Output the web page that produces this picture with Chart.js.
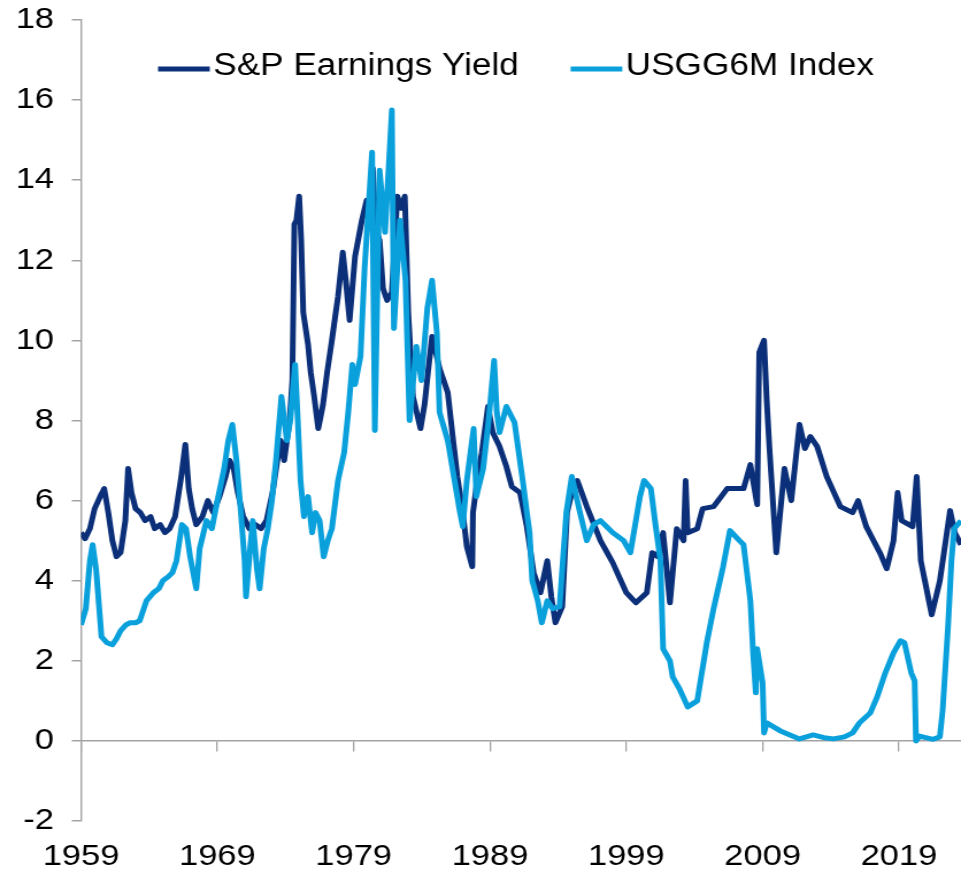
<!DOCTYPE html>
<html>
<head>
<meta charset="utf-8">
<script src="https://cdn.jsdelivr.net/npm/chart.js@4.4.1/dist/chart.umd.min.js"></script>
<style>
  html, body { margin: 0; padding: 0; background: #fff; overflow: hidden; }
  #wrap { width: 836px; height: 877px; transform: scaleX(1.1495); transform-origin: 0 0; }
</style>
</head>
<body>
<div id="wrap"><canvas id="chart" width="836" height="877"></canvas></div>
<script>
// S&P 500 earnings yield (%)
var earningsYears = [
  1959.0, 1959.3, 1959.65, 1960.0, 1960.4, 1960.7, 1961.0, 1961.3, 1961.6, 1961.9,
  1962.25, 1962.45, 1962.7, 1963.0, 1963.35, 1963.7, 1964.1, 1964.4, 1964.8, 1965.15,
  1965.5, 1965.9, 1966.35, 1966.65, 1966.9, 1967.15, 1967.45, 1967.9, 1968.3, 1968.7,
  1969.15, 1969.6, 1969.9, 1970.2, 1970.5, 1970.9, 1971.35, 1971.8, 1972.2, 1972.6,
  1973.05, 1973.4, 1973.65, 1973.9, 1974.3, 1974.5, 1974.65, 1974.8, 1975.0, 1975.15,
  1975.3, 1975.65, 1975.85, 1976.1, 1976.4, 1976.75, 1977.05, 1977.4, 1977.85, 1978.2,
  1978.45, 1978.7, 1979.1, 1979.6, 1979.95, 1980.2, 1980.4, 1980.6, 1980.9, 1981.15,
  1981.45, 1981.8, 1982.0, 1982.2, 1982.5, 1982.75, 1983.0, 1983.35, 1983.9, 1984.2,
  1984.45, 1984.75, 1985.3, 1985.9, 1986.3, 1986.6, 1986.95, 1987.3, 1987.7, 1987.75,
  1988.1, 1988.4, 1988.85, 1989.2, 1989.7, 1990.2, 1990.6, 1991.2, 1991.7, 1992.2,
  1992.7, 1993.2, 1993.5, 1993.8, 1994.3, 1994.65, 1995.0, 1995.4, 1996.1, 1997.1,
  1998.0, 1999.0, 1999.7, 2000.5, 2000.9, 2001.3, 2001.7, 2002.2, 2002.7, 2003.2,
  2003.35, 2003.5, 2004.2, 2004.6, 2005.4, 2006.4, 2007.6, 2008.1, 2008.6, 2008.75,
  2009.1, 2009.3, 2009.5, 2010.0, 2010.6, 2011.1, 2011.7, 2012.1, 2012.5, 2013.0,
  2013.7, 2014.7, 2015.6, 2016.0, 2016.6, 2017.6, 2018.1, 2018.6, 2018.9, 2019.2,
  2020.0, 2020.3, 2020.6, 2020.9, 2021.4, 2022.0, 2022.75, 2023.1, 2023.55
];
var earningsYield = [
  5.2, 5.05, 5.3, 5.8, 6.1, 6.3, 5.7, 5.0, 4.6, 4.7,
  5.5, 6.8, 6.2, 5.8, 5.7, 5.5, 5.6, 5.3, 5.4, 5.2,
  5.3, 5.6, 6.6, 7.4, 6.3, 5.8, 5.4, 5.6, 6.0, 5.7,
  6.1, 6.6, 7.0, 6.8, 6.2, 5.6, 5.3, 5.4, 5.3, 5.5,
  6.2, 7.0, 7.5, 7.0, 8.0, 9.0, 12.9, 13.0, 13.6, 12.5,
  10.7, 9.9, 9.2, 8.6, 7.8, 8.4, 9.2, 10.0, 11.1, 12.2,
  11.4, 10.5, 12.1, 13.0, 13.5, 13.0, 14.3, 12.8, 12.5, 11.3,
  11.0, 11.2, 12.4, 13.6, 13.3, 13.6, 10.7, 8.6, 7.8, 8.4,
  9.2, 10.1, 9.3, 8.7, 7.5, 6.6, 5.85, 4.85, 4.35, 5.7,
  6.6, 7.2, 8.35, 7.7, 7.35, 6.85, 6.35, 6.2, 5.35, 4.2,
  3.7, 4.5, 3.6, 2.95, 3.35, 5.7, 6.2, 6.5, 5.85, 5.0,
  4.45, 3.7, 3.45, 3.7, 4.7, 4.6, 5.2, 3.45, 5.3, 5.0,
  6.5, 5.2, 5.3, 5.8, 5.85, 6.3, 6.3, 6.9, 5.9, 9.7,
  10.0, 8.5, 7.3, 4.7, 6.8, 6.0, 7.9, 7.3, 7.6, 7.35,
  6.6, 5.85, 5.7, 6.0, 5.35, 4.7, 4.3, 5.0, 6.2, 5.5,
  5.35, 6.6, 4.5, 4.0, 3.15, 4.0, 5.75, 5.2, 4.9
];

// US Generic 6-month bill yield (%)
var billYears = [
  1959.0, 1959.35, 1959.65, 1959.85, 1960.1, 1960.3, 1960.5, 1960.9, 1961.3, 1961.6,
  1961.9, 1962.3, 1962.6, 1963.0, 1963.3, 1963.6, 1963.8, 1964.3, 1964.7, 1965.0,
  1965.4, 1965.7, 1966.0, 1966.4, 1966.7, 1967.0, 1967.45, 1967.7, 1968.2, 1968.6,
  1969.0, 1969.5, 1969.8, 1970.1, 1970.4, 1970.7, 1971.0, 1971.1, 1971.4, 1971.6,
  1971.9, 1972.1, 1972.4, 1972.7, 1973.0, 1973.3, 1973.7, 1974.1, 1974.35, 1974.7,
  1974.9, 1975.1, 1975.35, 1975.65, 1975.95, 1976.2, 1976.5, 1976.8, 1977.1, 1977.4,
  1977.85, 1978.3, 1978.6, 1978.9, 1979.1, 1979.5, 1979.8, 1980.35, 1980.55, 1980.9,
  1981.3, 1981.8, 1981.95, 1982.4, 1982.8, 1983.1, 1983.6, 1983.97, 1984.4, 1984.75,
  1985.1, 1985.3, 1985.9, 1986.4, 1986.8, 1987.0, 1987.3, 1987.8, 1988.0, 1988.5,
  1988.9, 1989.3, 1989.5, 1989.7, 1990.2, 1990.8, 1991.4, 1991.9, 1992.1, 1992.5,
  1992.8, 1993.2, 1993.6, 1994.1, 1994.6, 1995.0, 1995.6, 1996.1, 1996.6, 1997.1,
  1998.0, 1998.8, 1999.3, 2000.0, 2000.3, 2000.8, 2001.1, 2001.5, 2001.7, 2002.2,
  2002.4, 2002.9, 2003.5, 2004.2, 2004.9, 2005.4, 2006.1, 2006.6, 2007.3, 2007.6,
  2008.1, 2008.3, 2008.5, 2008.6, 2009.0, 2009.1, 2009.3, 2010.3, 2011.0, 2011.7,
  2012.7, 2013.5, 2014.2, 2015.0, 2015.6, 2016.1, 2016.9, 2017.4, 2018.0, 2018.6,
  2019.1, 2019.4, 2019.9, 2020.15, 2020.25, 2020.5, 2021.5, 2022.0, 2022.2, 2022.6,
  2022.85, 2023.05, 2023.55
];
var billYield = [
  2.9, 3.3, 4.5, 4.9, 4.3, 3.45, 2.6, 2.45, 2.4, 2.55,
  2.75, 2.9, 2.95, 2.95, 3.0, 3.3, 3.5, 3.7, 3.8, 4.0,
  4.1, 4.2, 4.5, 5.4, 5.3, 4.6, 3.8, 4.8, 5.5, 5.3,
  6.0, 6.8, 7.5, 7.9, 7.0, 5.8, 4.5, 3.6, 4.8, 5.5,
  4.3, 3.8, 4.8, 5.3, 6.0, 7.0, 8.6, 7.5, 8.0, 9.4,
  8.0, 6.5, 5.6, 6.1, 5.2, 5.7, 5.5, 4.6, 5.0, 5.3,
  6.5, 7.2, 8.2, 9.4, 8.9, 9.6, 11.8, 14.7, 7.75, 14.25,
  12.7, 15.75, 10.3, 13.0, 11.5, 8.0, 9.85, 9.0, 10.8, 11.5,
  10.2, 8.2, 7.5, 6.5, 5.7, 5.35, 6.5, 7.8, 6.1, 6.8,
  8.0, 9.5, 8.2, 7.7, 8.35, 7.95, 6.5, 5.2, 4.0, 3.5,
  2.95, 3.5, 3.3, 3.35, 5.7, 6.6, 5.7, 5.0, 5.4, 5.5,
  5.2, 5.0, 4.7, 6.1, 6.5, 6.3, 5.5, 4.5, 2.3, 2.0,
  1.6, 1.3, 0.85, 1.0, 2.45, 3.3, 4.35, 5.25, 5.0, 4.9,
  3.5, 2.2, 1.2, 2.3, 1.45, 0.2, 0.45, 0.25, 0.15, 0.05,
  0.15, 0.08, 0.05, 0.1, 0.2, 0.45, 0.7, 1.1, 1.7, 2.2,
  2.5, 2.45, 1.7, 1.5, 0.0, 0.12, 0.04, 0.1, 0.75, 2.85,
  4.5, 5.3, 5.5
];

var seriesNames = ['S&P Earnings Yield', 'USGG6M Index'];
var yearTicks = [1959, 1969, 1979, 1989, 1999, 2009, 2019];

var NAVY = '#0B3079';
var CYAN = '#0AA0DC';
var AXIS = '#A3A3A3';
var FONT = '"Liberation Sans", Arial, sans-serif';

Chart.defaults.font.family = FONT;
Chart.defaults.color = '#000';

function toPoints(xs, ys) {
  return xs.map(function (x, i) { return { x: x, y: ys[i] }; });
}

function fixedTicks(scale) {
  scale.ticks = yearTicks.map(function (v) { return { value: v }; });
}

// legend sits inside the plot area, one row, line sample right against the text
var inlineLegend = {
  id: 'inlineLegend',
  afterDraw: function (chart) {
    var ctx = chart.ctx;
    var x = 137.5, y = 67, sample = 45, gap = 3, spacing = 45;
    ctx.save();
    ctx.font = '30.6px ' + FONT;
    ctx.textBaseline = 'middle';
    ctx.fillStyle = '#000';
    chart.data.datasets.forEach(function (ds) {
      ctx.strokeStyle = ds.borderColor;
      ctx.lineWidth = 5;
      ctx.beginPath();
      ctx.moveTo(x, y + 2);
      ctx.lineTo(x + sample, y + 2);
      ctx.stroke();
      ctx.fillText(ds.label, x + sample + gap, y);
      x += sample + gap + ctx.measureText(ds.label).width + spacing;
    });
    ctx.restore();
  }
};

new Chart(document.getElementById('chart'), {
  type: 'line',
  data: {
    datasets: [{
      label: seriesNames[0],
      data: toPoints(earningsYears, earningsYield),
      borderColor: NAVY,
      borderWidth: 5,
      borderJoinStyle: 'round',
      pointRadius: 0,
      tension: 0,
      order: 2
    }, {
      label: seriesNames[1],
      data: toPoints(billYears, billYield),
      borderColor: CYAN,
      borderWidth: 5,
      borderJoinStyle: 'round',
      pointRadius: 0,
      tension: 0,
      order: 1
    }]
  },
  plugins: [inlineLegend],
  options: {
    responsive: false,
    animation: false,
    parsing: false,
    layout: { padding: { top: 20, right: 0, bottom: 0, left: 0 } },
    plugins: {
      tooltip: { enabled: false },
      legend: { display: false }
    },
    scales: {
      x: {
        type: 'linear',
        position: 'bottom',
        min: 1959,
        max: 2023.55,
        afterBuildTicks: fixedTicks,
        afterFit: function (scale) { scale.height = 56; scale.paddingLeft = 0; scale.paddingRight = 0; },
        border: { display: false },
        grid: { display: false, drawTicks: false },
        ticks: {
          font: { size: 30 },
          padding: 18,
          maxRotation: 0,
          autoSkip: false,
          callback: function (v) { return String(v); }
        }
      },
      x0: {
        type: 'linear',
        axis: 'x',
        position: { y: 0 },
        min: 1959,
        max: 2023.55,
        afterBuildTicks: fixedTicks,
        border: { display: true, color: AXIS, width: 1.5 },
        grid: { drawOnChartArea: false, drawTicks: true, tickLength: 10, color: AXIS, lineWidth: 1.3 },
        ticks: { display: false }
      },
      y: {
        min: -2,
        max: 18,
        afterFit: function (scale) { scale.width = 70.5; scale.paddingTop = 0; scale.paddingBottom = 0; },
        border: { display: true, color: AXIS, width: 1.4 },
        grid: { drawOnChartArea: false, drawTicks: true, tickLength: 8, color: AXIS, lineWidth: 1.5 },
        ticks: { stepSize: 2, font: { size: 30 }, padding: 15.5 }
      }
    }
  }
});
</script>
</body>
</html>
